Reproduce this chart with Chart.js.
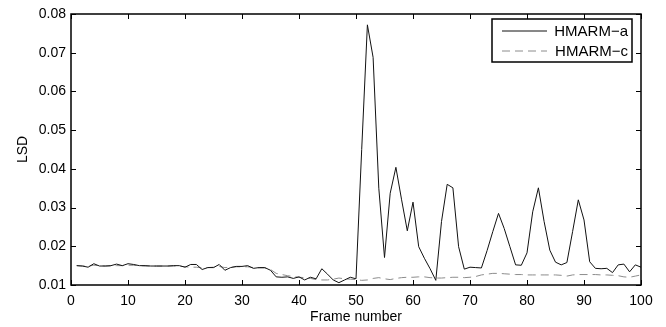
<!DOCTYPE html>
<html>
<head>
<meta charset="utf-8">
<script src="https://cdn.jsdelivr.net/npm/chart.js@4"></script>
<style>
  html, body { margin: 0; padding: 0; background: #fff; }
  #wrap { width: 666px; height: 327px; position: relative; }
</style>
</head>
<body>
<div id="wrap"><canvas id="lsdChart"></canvas></div>
<script>
// Frame numbers 1..100
const frames = [];
for (let i = 1; i <= 100; i++) frames.push(i);

const hmarmA = [
    0.0150, 0.0149, 0.0146, 0.0155, 0.0149, 0.0149, 0.0150, 0.0154, 0.0150, 0.0155,
    0.0153, 0.0150, 0.0150, 0.0149, 0.0149, 0.0149, 0.0149, 0.0150, 0.0150, 0.0146,
    0.0153, 0.0153, 0.0140, 0.0145, 0.0145, 0.0153, 0.0138, 0.0145, 0.0148, 0.0148,
    0.0150, 0.0143, 0.0145, 0.0145, 0.0138, 0.0121, 0.0120, 0.0121, 0.0117, 0.0121,
    0.0113, 0.0120, 0.0116, 0.0142, 0.0128, 0.0113, 0.0106, 0.0113, 0.0120, 0.0116,
    0.0450, 0.0772, 0.0688, 0.0350, 0.0171, 0.0337, 0.0404, 0.0320, 0.0240, 0.0314,
    0.0199, 0.0169, 0.0142, 0.0112, 0.0264, 0.0360, 0.0351, 0.0199, 0.0141, 0.0146,
    0.0145, 0.0144, 0.0189, 0.0238, 0.0285, 0.0246, 0.0199, 0.0152, 0.0151, 0.0183,
    0.0289, 0.0351, 0.0264, 0.0190, 0.0159, 0.0152, 0.0158, 0.0238, 0.0320, 0.0268,
    0.0160, 0.0143, 0.0142, 0.0143, 0.0132, 0.0152, 0.0154, 0.0134, 0.0152, 0.0146
];

const hmarmC = [
    0.0150, 0.0149, 0.0149, 0.0151, 0.0150, 0.0149, 0.0149, 0.0150, 0.0150, 0.0151,
    0.0151, 0.0150, 0.0149, 0.0149, 0.0149, 0.0149, 0.0149, 0.0149, 0.0149, 0.0147,
    0.0146, 0.0146, 0.0144, 0.0145, 0.0146, 0.0148, 0.0145, 0.0146, 0.0147, 0.0147,
    0.0147, 0.0145, 0.0144, 0.0144, 0.0140, 0.0130, 0.0127, 0.0124, 0.0122, 0.0120,
    0.0119, 0.0117, 0.0114, 0.0113, 0.0113, 0.0115, 0.0118, 0.0116, 0.0115, 0.0114,
    0.0112, 0.0113, 0.0117, 0.0119, 0.0116, 0.0114, 0.0117, 0.0119, 0.0120, 0.0120,
    0.0121, 0.0121, 0.0119, 0.0118, 0.0118, 0.0119, 0.0120, 0.0120, 0.0119, 0.0120,
    0.0122, 0.0126, 0.0128, 0.0130, 0.0130, 0.0129, 0.0128, 0.0127, 0.0127, 0.0126,
    0.0126, 0.0126, 0.0126, 0.0126, 0.0126, 0.0125, 0.0123, 0.0126, 0.0127, 0.0127,
    0.0127, 0.0127, 0.0126, 0.0126, 0.0125, 0.0124, 0.0121, 0.0120, 0.0123, 0.0126
];

const seriesLabels = ['HMARM\u2212a', 'HMARM\u2212c'];
const xTicks = [0, 10, 20, 30, 40, 50, 60, 70, 80, 90, 100];
const yTicks = [0.01, 0.02, 0.03, 0.04, 0.05, 0.06, 0.07, 0.08];

const FONT = '"Liberation Sans", Arial, Helvetica, sans-serif';

// matlab-like box with inward ticks on all four sides, plus the legend box
const boxPlugin = {
    id: 'matlabBox',
    afterDraw(chart) {
        const ctx = chart.ctx;
        const area = chart.chartArea;
        const xs = chart.scales.x;
        const ys = chart.scales.y;
        const tl = 5;

        ctx.save();
        ctx.strokeStyle = '#000';
        ctx.lineWidth = 1;
        ctx.beginPath();
        xTicks.forEach(v => {
            const px = Math.round(xs.getPixelForValue(v)) + 0.5;
            ctx.moveTo(px, area.bottom); ctx.lineTo(px, area.bottom - tl);
            ctx.moveTo(px, area.top); ctx.lineTo(px, area.top + tl);
        });
        yTicks.forEach(v => {
            const py = Math.round(ys.getPixelForValue(v)) + 0.5;
            ctx.moveTo(area.left, py); ctx.lineTo(area.left + tl, py);
            ctx.moveTo(area.right, py); ctx.lineTo(area.right - tl, py);
        });
        ctx.stroke();

        ctx.lineWidth = 1.5;
        ctx.strokeRect(area.left, area.top, area.right - area.left, area.bottom - area.top);

        // legend
        const lw = 140, lh = 43;
        const lx = area.right - 9 - lw;
        const ly = area.top + 5;
        ctx.fillStyle = '#fff';
        ctx.fillRect(lx, ly, lw, lh);
        ctx.lineWidth = 1.5;
        ctx.strokeRect(lx, ly, lw, lh);

        ctx.font = '15px ' + FONT;
        ctx.textBaseline = 'middle';
        ctx.textAlign = 'right';
        chart.data.datasets.forEach((ds, i) => {
            const rowY = ly + 12 + i * 20;
            ctx.beginPath();
            ctx.strokeStyle = ds.borderColor;
            ctx.lineWidth = ds.borderWidth;
            ctx.setLineDash(ds.borderDash || []);
            ctx.moveTo(lx + 10, rowY);
            ctx.lineTo(lx + 55, rowY);
            ctx.stroke();
            ctx.setLineDash([]);
            ctx.fillStyle = '#000';
            ctx.fillText(ds.label, lx + lw - 4, rowY + 1);
        });
        ctx.restore();
    }
};

new Chart(document.getElementById('lsdChart'), {
    type: 'line',
    data: {
        datasets: [{
            label: seriesLabels[0],
            data: frames.map((f, i) => ({ x: f, y: hmarmA[i] })),
            borderColor: '#111',
            borderWidth: 1,
            pointRadius: 0,
            tension: 0,
            fill: false
        }, {
            label: seriesLabels[1],
            data: frames.map((f, i) => ({ x: f, y: hmarmC[i] })),
            borderColor: '#8c8c8c',
            borderWidth: 1,
            borderDash: [8, 5],
            pointRadius: 0,
            tension: 0,
            fill: false
        }]
    },
    options: {
        responsive: true,
        maintainAspectRatio: false,
        animation: false,
        events: [],
        layout: {
            padding: { top: 14, right: 25, left: 0, bottom: 0 }
        },
        plugins: {
            legend: { display: false },
            tooltip: { enabled: false }
        },
        scales: {
            x: {
                type: 'linear',
                min: 0,
                max: 100,
                afterBuildTicks: scale => { scale.ticks = xTicks.map(v => ({ value: v })); },
                afterFit: scale => { scale.height = 42; },
                grid: { display: false, drawTicks: false },
                border: { display: false },
                ticks: {
                    padding: 8,
                    color: '#000',
                    font: { family: FONT, size: 14 },
                    maxRotation: 0
                },
                title: {
                    display: true,
                    text: 'Frame number',
                    color: '#000',
                    font: { family: FONT, size: 14 },
                    padding: { top: 0, bottom: 1 }
                }
            },
            y: {
                min: 0.01,
                max: 0.08,
                afterBuildTicks: scale => { scale.ticks = yTicks.map(v => ({ value: v })); },
                afterFit: scale => { scale.width = 71; },
                grid: { display: false, drawTicks: false },
                border: { display: false },
                ticks: {
                    padding: 5,
                    color: '#000',
                    font: { family: FONT, size: 14 },
                    callback: v => v.toFixed(2)
                },
                title: {
                    display: true,
                    text: 'LSD',
                    color: '#000',
                    font: { family: FONT, size: 14 },
                    padding: { top: 15, bottom: 0 }
                }
            }
        }
    },
    plugins: [boxPlugin]
});
</script>
</body>
</html>
